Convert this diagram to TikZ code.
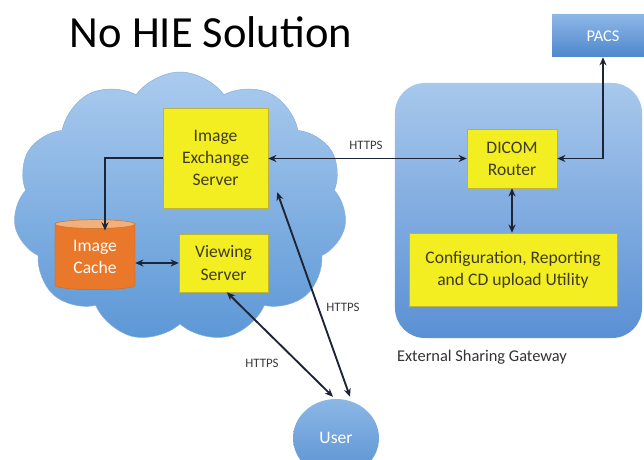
\documentclass[tikz,border=0pt]{standalone}
\usepackage{fontspec}
\setmainfont{Carlito}
\usepackage{tikz}
\usetikzlibrary{shapes.geometric, shapes.symbols, positioning, arrows.meta}
\definecolor{cloudtop}{HTML}{AACBEE}
\definecolor{cloudbot}{HTML}{5C97D6}
\definecolor{cloudedge}{HTML}{86AEDC}
\definecolor{gwtop}{HTML}{A8C8EC}
\definecolor{gwbot}{HTML}{5A90D4}
\definecolor{pacstop}{HTML}{8DB6E6}
\definecolor{pacsbot}{HTML}{4E87CC}
\definecolor{usertop}{HTML}{8CB7E6}
\definecolor{userbot}{HTML}{5A92D2}
\definecolor{boxyellow}{HTML}{F3EE21}
\definecolor{boxedge}{HTML}{BDB33A}
\definecolor{boxtext}{HTML}{3E3B22}
\definecolor{cachebody}{HTML}{E9782B}
\definecolor{cachetop}{HTML}{F2B07A}
\definecolor{cacheedge}{HTML}{D06A20}
\definecolor{linkcol}{HTML}{1C2436}
\definecolor{httpsgray}{HTML}{3A3A3A}
\tikzset{
server/.style={shape=rectangle, draw=boxedge, fill=boxyellow, text=boxtext, align=center, inner sep=0, font=\fontsize{15}{19}\selectfont}, cache/.style={cylinder, shape border rotate=90, aspect=0.2, minimum width=2.4cm, minimum height=2.1cm, draw=cacheedge, cylinder uses custom fill, cylinder body fill=cachebody, cylinder end fill=cachetop, text=white, align=center, inner sep=0, font=\fontsize{15}{19}\selectfont}, https/.style={text=httpsgray, font=\fontsize{11}{13}\selectfont}, link/.style={draw=linkcol, line width=1.6pt}}

\begin{document}
\begin{tikzpicture}[x=0.03cm, y=-0.03cm, >={Stealth[length=7pt, width=6pt]}]
\useasboundingbox (0,0) rectangle (644,460);
\node [anchor=base, font=\fontsize{38}{42}\selectfont] at (211, 48) (title) {No HIE Solution};
\node [cloud, cloud puffs=11, cloud puff arc=110, aspect=1.25, minimum width=10cm, minimum height=8.1cm, draw=cloudedge, top color=cloudtop, bottom color=cloudbot] at (180, 207) (cloud) {};
\node [rounded corners=0.9cm, minimum width=7.41cm, minimum height=7.65cm, top color=gwtop, bottom color=gwbot] at (518.5, 210.5) (gw) {};
\node [anchor=base, font=\fontsize{14}{17}\selectfont, text=black!80] at (482, 362) (gwlabel) {External Sharing Gateway};

\node [server, minimum width=3.15cm, minimum height=3cm] at (215.5, 158) (ies) {Image\\Exchange\\Server};
\node [server, minimum width=2.67cm, minimum height=1.74cm] at (223.5, 263) (vs) {Viewing\\Server};
\node [cache] at (95, 257) (cache) {Image\\Cache};
\node [server, minimum width=2.7cm, minimum height=1.77cm] at (512, 158.5) (router) {DICOM\\Router};
\node [server, minimum width=6.24cm, minimum height=2.19cm] at (513, 269.5) (config) {Configuration, Reporting\\and CD upload Utility};
\node [minimum width=3.06cm, minimum height=1.26cm, top color=pacstop, bottom color=pacsbot, text=white, font=\fontsize{14}{17}\selectfont] at (603, 36) (pacs) {PACS};
\node [ellipse, minimum width=2.58cm, minimum height=2.34cm, top color=usertop, bottom color=userbot, text=white, font=\fontsize{15}{18}\selectfont] at (336, 438) (user) {User};

\draw [link, ->] (ies.west) -| ([xshift=0.3cm, yshift=-0.33cm]cache.north);
\draw [link, <->] (cache.east |- vs.west) -- (vs.west);
\draw [link, <->] (ies.east |- router.west) -- (router.west);
\draw [link, <->] (router.east) -| (pacs.south);
\draw [link, <->] (router.south) -- (router.south |- config.north);
\draw [link, <->] ([xshift=0.1cm]vs.south) -- ([xshift=-0.09cm, yshift=0.06cm]user.north);
\draw [link, <->] ([shift={(0.27cm,0.48cm)}]ies.south east) -- ([shift={(0.42cm,0.06cm)}]user.north);

\node [https] at (366, 145) (https-1) {HTTPS};
\node [https] at (343, 307) (https-2) {HTTPS};
\node [https] at (262, 363) (https-3) {HTTPS};
\end{tikzpicture}
\end{document}
